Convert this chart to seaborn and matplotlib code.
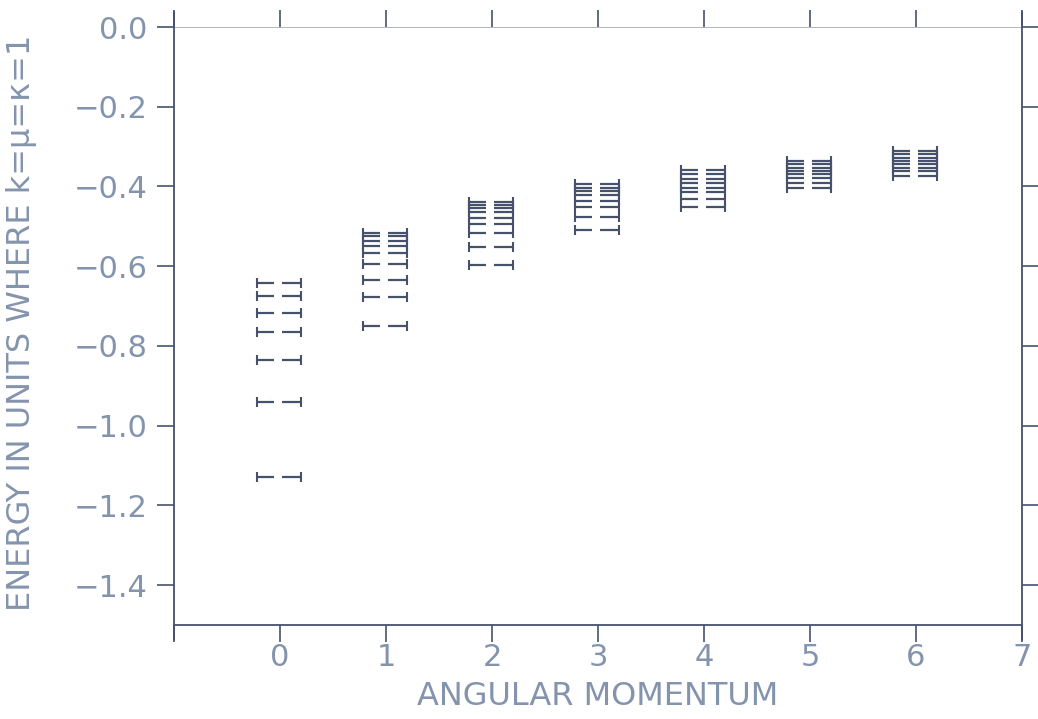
import numpy as np
import pandas as pd
import matplotlib
matplotlib.use("Agg")
import matplotlib.pyplot as plt
import seaborn as sns

# Energy levels, one list per angular momentum value
angular_momentum = [0, 1, 2, 3, 4, 5, 6]
levels_L0 = [-1.128, -0.940, -0.835, -0.766, -0.717, -0.675, -0.643]
levels_L1 = [-0.751, -0.678, -0.635, -0.594, -0.566, -0.549, -0.536, -0.525, -0.516]
levels_L2 = [-0.598, -0.552, -0.517, -0.495, -0.478, -0.465, -0.455, -0.447, -0.440]
levels_L3 = [-0.509, -0.477, -0.452, -0.436, -0.422, -0.411, -0.403, -0.394]
levels_L4 = [-0.452, -0.432, -0.415, -0.403, -0.390, -0.380, -0.369, -0.359]
levels_L5 = [-0.405, -0.390, -0.378, -0.369, -0.361, -0.353, -0.344, -0.336]
levels_L6 = [-0.374, -0.361, -0.353, -0.344, -0.336, -0.328, -0.319, -0.311]
all_levels = [levels_L0, levels_L1, levels_L2, levels_L3, levels_L4, levels_L5, levels_L6]

x_ticks = [-1, 0, 1, 2, 3, 4, 5, 6, 7]
x_tick_labels = ["", "0", "1", "2", "3", "4", "5", "6", "7"]
y_ticks = [0.0, -0.2, -0.4, -0.6, -0.8, -1.0, -1.2, -1.4]
y_tick_labels = ["0.0", "\u22120.2", "\u22120.4", "\u22120.6", "\u22120.8", "\u22121.0", "\u22121.2", "\u22121.4"]

rows = []
for L, lev in zip(angular_momentum, all_levels):
    for e in lev:
        rows.append((L, e))
df = pd.DataFrame(rows, columns=["L", "E"])

line_col = "#46526c"
text_col = "#8494ad"

sns.set_theme(style="ticks")
plt.rcParams["font.family"] = ["DejaVu Sans"]

fig = plt.figure(figsize=(10.38, 7.19), dpi=100)
ax = fig.add_axes([0.1676, 0.1307, 0.8170, 0.8317])

# each level: a left piece with a tick at its left end and a right piece with a tick at its right end
left_lo, left_hi = -0.22, -0.06
right_lo, right_hi = 0.02, 0.20
ax.hlines(df["E"], df["L"] + left_lo, df["L"] + left_hi, color=line_col, lw=1.6)
ax.hlines(df["E"], df["L"] + right_lo, df["L"] + right_hi, color=line_col, lw=1.6)
sns.scatterplot(x=df["L"] + left_lo, y=df["E"], marker="|", s=45, color=line_col,
                edgecolor=line_col, linewidth=1.5, ax=ax, legend=False)
sns.scatterplot(x=df["L"] + right_hi, y=df["E"], marker="|", s=45, color=line_col,
                edgecolor=line_col, linewidth=1.5, ax=ax, legend=False)

ax.set_xlim(-1, 7)
ax.set_ylim(-1.5, 0.0)
ax.set_xticks(x_ticks)
ax.set_xticklabels(x_tick_labels)
ax.set_yticks(y_ticks)
ax.set_yticklabels(y_tick_labels)

# frame lines that run a little past the corners, like the original plotter output
for s in ax.spines.values():
    s.set_visible(False)
ax.plot([0, 0], [-0.025, 1.025], transform=ax.transAxes, clip_on=False, color=line_col, lw=1.3)
ax.plot([1, 1], [-0.025, 1.025], transform=ax.transAxes, clip_on=False, color=line_col, lw=1.3)
ax.plot([0, 1], [0, 0], transform=ax.transAxes, clip_on=False, color=line_col, lw=1.3)
ax.plot([0, 1], [1, 1], transform=ax.transAxes, clip_on=False, color=line_col, lw=0.6, alpha=0.5)

ax.tick_params(axis="both", direction="out", length=12, width=1.2, color=line_col,
               labelcolor=text_col, labelsize=22)
ax.tick_params(axis="x", top=True, labeltop=False, pad=1)
ax.tick_params(axis="y", right=True, labelright=False, pad=7)

ax.set_xlabel("ANGULAR MOMENTUM", fontsize=23, color=text_col)
ax.set_ylabel("ENERGY IN UNITS WHERE k=\u03bc=\u03ba=1", fontsize=23, color=text_col)
ax.xaxis.set_label_coords(0.5, -0.094)
ax.yaxis.set_label_coords(-0.162, 0.505)
ax.grid(False)

plt.savefig("out.png", dpi=100)
plt.close()
